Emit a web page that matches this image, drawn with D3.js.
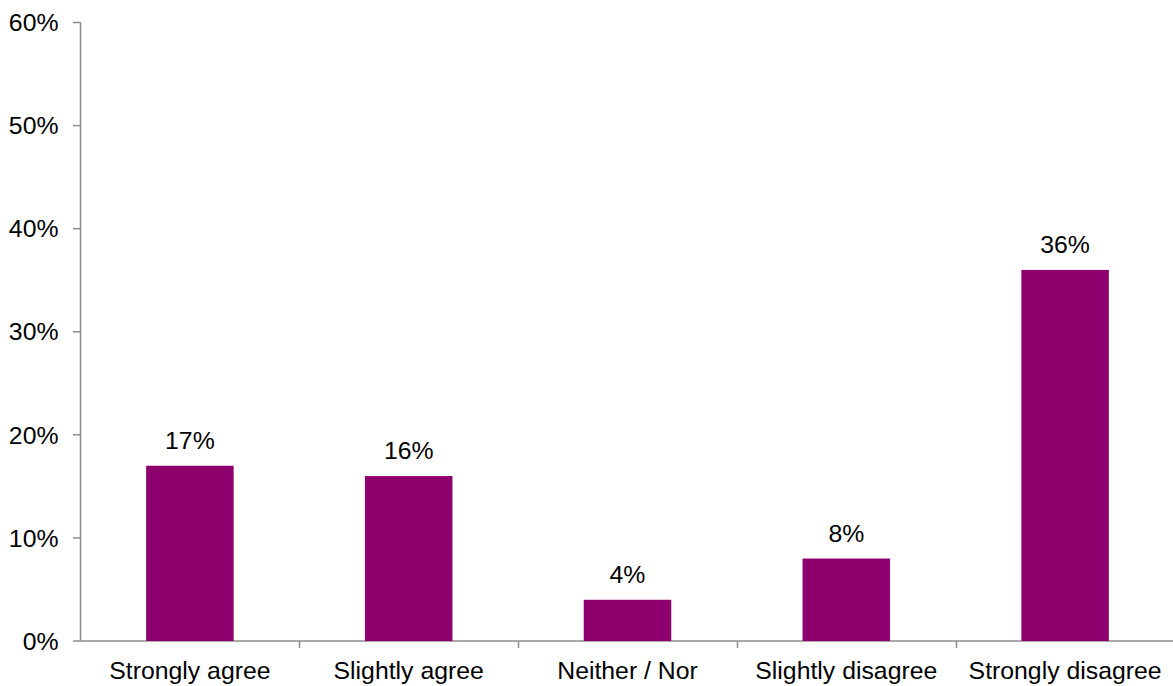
<!DOCTYPE html>
<html><head><meta charset="utf-8">
<script src="https://cdn.jsdelivr.net/npm/d3@7"></script>
<style>body{margin:0;background:#fff}svg{display:block}text{font-family:"Liberation Sans",Arial,sans-serif}</style>
</head><body>
<script>
const categories = ["Strongly agree","Slightly agree","Neither / Nor","Slightly disagree","Strongly disagree"];
const values = [17,16,4,8,36];
const yTicks = [0,10,20,30,40,50,60];

const W=1173,H=686;
const FS=24.8;
const svg=d3.select("body").append("svg").attr("width",W).attr("height",H);
const x=d3.scaleBand().domain(categories).range([80.5,1174.5]).paddingInner(0).paddingOuter(0);
const y=d3.scaleLinear().domain([0,60]).range([641,22.5]);
const axisColor="#8c8c8c";
const barW=87.5;

// y axis
svg.append("line").attr("x1",80.5).attr("x2",80.5).attr("y1",y(60)).attr("y2",y(0)).attr("stroke",axisColor).attr("stroke-width",1.5);
yTicks.forEach(t=>{
  svg.append("line").attr("x1",73).attr("x2",80.5).attr("y1",y(t)).attr("y2",y(t)).attr("stroke",axisColor).attr("stroke-width",1.5);
  svg.append("text").attr("x",58.5).attr("y",y(t)).attr("dy","0.35em").attr("text-anchor","end").attr("font-size",FS).attr("fill","#000").text(t+"%");
});
// x axis
svg.append("line").attr("x1",80.5).attr("x2",W).attr("y1",y(0)).attr("y2",y(0)).attr("stroke",axisColor).attr("stroke-width",1.5);
categories.slice(1).forEach(c=>{
  const xx=Math.round(x(c))+0.5;
  svg.append("line").attr("x1",xx).attr("x2",xx).attr("y1",y(0)).attr("y2",y(0)+7).attr("stroke",axisColor).attr("stroke-width",1.5);
});
// bars
svg.selectAll("rect.bar").data(values).enter().append("rect")
  .attr("x",(d,i)=>x(categories[i])+x.bandwidth()/2-barW/2)
  .attr("width",barW)
  .attr("y",d=>y(d)).attr("height",d=>y(0)-y(d))
  .attr("fill","#8f006f");
// value labels
svg.selectAll("text.val").data(values).enter().append("text")
  .attr("x",(d,i)=>x(categories[i])+x.bandwidth()/2)
  .attr("y",d=>y(d)-17).attr("text-anchor","middle").attr("font-size",FS).attr("fill","#000")
  .text(d=>d+"%");
// category labels
categories.forEach(c=>{
  svg.append("text").attr("x",x(c)+x.bandwidth()/2).attr("y",679).attr("text-anchor","middle").attr("font-size",FS).attr("fill","#000").text(c);
});
</script>
</body></html>
